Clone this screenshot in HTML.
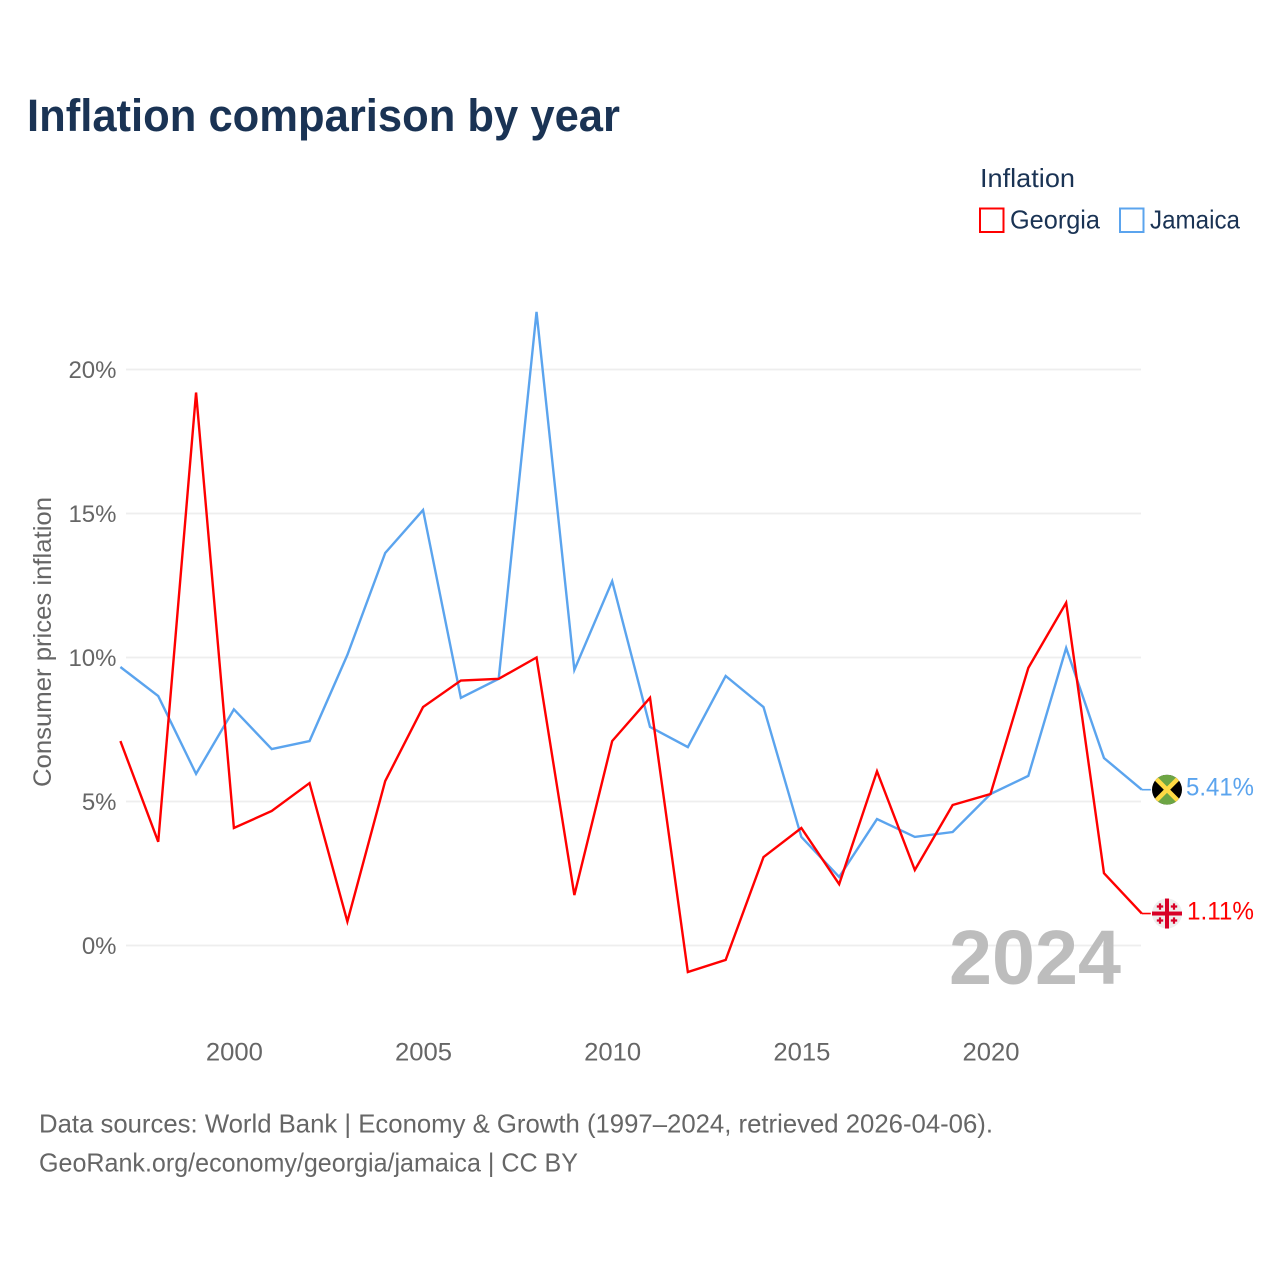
<!DOCTYPE html>
<html lang="en">
<head>
<meta charset="utf-8">
<title>Inflation comparison by year</title>
<style>
html,body{margin:0;padding:0;background:#fff;}
svg{display:block;font-family:"Liberation Sans",sans-serif;}
</style>
</head>
<body>
<svg id="chart" xmlns="http://www.w3.org/2000/svg" width="1280" height="1280" viewBox="0 0 1280 1280">
  <text x="27" y="131" font-size="45" font-weight="700" fill="#1a3354" textLength="593" lengthAdjust="spacingAndGlyphs">Inflation comparison by year</text>

  <text x="980" y="187" font-size="26" fill="#1a3354" textLength="95" lengthAdjust="spacingAndGlyphs">Inflation</text>
  <rect x="980" y="208.5" width="23.5" height="23.5" fill="#fff" stroke="#ff0000" stroke-width="2"/>
  <text x="1010" y="228.5" font-size="26" fill="#1a3354" textLength="90" lengthAdjust="spacingAndGlyphs">Georgia</text>
  <rect x="1120" y="208.5" width="23.5" height="23.5" fill="#fff" stroke="#5ba4ee" stroke-width="2"/>
  <text x="1150" y="228.5" font-size="26" fill="#1a3354" textLength="90" lengthAdjust="spacingAndGlyphs">Jamaica</text>

  <text transform="translate(51,787) rotate(-90)" font-size="25" fill="#666" textLength="290" lengthAdjust="spacingAndGlyphs">Consumer prices inflation</text>

  <g id="grid"></g>
  <g id="yticks"></g>
  <g id="xticks"></g>

  <text x="1121" y="984" text-anchor="end" font-size="77" font-weight="700" fill="#bdbdbd" textLength="172" lengthAdjust="spacingAndGlyphs">2024</text>

  <g id="series"></g>

  <g id="flag-jamaica">
    <clipPath id="clip-jm"><circle cx="0" cy="0" r="15"/></clipPath>
    <g clip-path="url(#clip-jm)">
      <rect x="-15" y="-15" width="30" height="30" fill="#000"/>
      <polygon points="-15,-15 15,-15 0,0" fill="#6da544"/>
      <polygon points="-15,15 15,15 0,0" fill="#6da544"/>
      <line x1="-15" y1="-15" x2="15" y2="15" stroke="#ffda44" stroke-width="4.5"/>
      <line x1="15" y1="-15" x2="-15" y2="15" stroke="#ffda44" stroke-width="4.5"/>
    </g>
  </g>
  <g id="flag-georgia">
    <circle cx="0" cy="0" r="15" fill="#eeeeee"/>
    <rect x="-15" y="-2" width="30" height="4" fill="#d80027"/>
    <rect x="-2" y="-15" width="4" height="30" fill="#d80027"/>
    <path d="M-8.1-10.2h2.2v2.1h2.1v2.2h-2.1v2.1h-2.2v-2.1h-2.1v-2.2h2.1zM5.9-10.2h2.2v2.1h2.1v2.2h-2.1v2.1h-2.2v-2.1h-2.1v-2.2h2.1zM-8.1 3.8h2.2v2.1h2.1v2.2h-2.1v2.1h-2.2v-2.1h-2.1v-2.2h2.1zM5.9 3.8h2.2v2.1h2.1v2.2h-2.1v2.1h-2.2v-2.1h-2.1v-2.2h2.1z" fill="#d80027"/>
  </g>

  <text x="39" y="1132.5" font-size="26" fill="#666" textLength="954" lengthAdjust="spacingAndGlyphs">Data sources: World Bank | Economy &amp; Growth (1997–2024, retrieved 2026-04-06).</text>
  <text x="39" y="1171.5" font-size="26" fill="#666" textLength="539" lengthAdjust="spacingAndGlyphs">GeoRank.org/economy/georgia/jamaica | CC BY</text>
</svg>
<script>
const years = [1997,1998,1999,2000,2001,2002,2003,2004,2005,2006,2007,2008,2009,2010,2011,2012,2013,2014,2015,2016,2017,2018,2019,2020,2021,2022,2023,2024];
const georgia = [7.1,3.6,19.2,4.08,4.67,5.64,0.83,5.71,8.28,9.2,9.26,10.0,1.75,7.1,8.6,-0.92,-0.5,3.07,4.08,2.13,6.05,2.62,4.88,5.26,9.64,11.9,2.51,1.11];
const jamaica = [9.67,8.66,5.96,8.2,6.82,7.1,10.09,13.63,15.12,8.6,9.26,22.0,9.57,12.65,7.59,6.89,9.36,8.28,3.77,2.38,4.39,3.77,3.94,5.26,5.89,10.33,6.51,5.41];
const yTickValues = [0,5,10,15,20];
const xTickValues = [2000,2005,2010,2015,2020];

const NS = 'http://www.w3.org/2000/svg';
const xScale = function (year) { return 120.4 + (year - 1997) * 37.83; };
const yScale = function (v) { return 945.5 - v * 28.8; };
const root = document.getElementById('chart');

function make(tag, attrs, parent) {
  const el = document.createElementNS(NS, tag);
  Object.keys(attrs).forEach(function (k) { el.setAttribute(k, attrs[k]); });
  parent.appendChild(el);
  return el;
}

yTickValues.forEach(function (v) {
  const line = make('line', {x1: 126, x2: 1141, y1: yScale(v), y2: yScale(v), stroke: '#eeeeee', 'stroke-width': 1.8}, document.getElementById('grid'));
  
  
  const label = make('text', {x: 116.5, y: yScale(v) + 8.5, 'text-anchor': 'end', 'font-size': 24, fill: '#666'}, document.getElementById('yticks'));
  label.textContent = v + '%';
  
  
});

xTickValues.forEach(function (year) {
  const label = make('text', {x: xScale(year) + 0.5, y: 1060.5, 'text-anchor': 'middle', 'font-size': 25, fill: '#666', textLength: 57, lengthAdjust: 'spacingAndGlyphs'}, document.getElementById('xticks'));
  label.textContent = String(year);
  
  
});

function toPoints(values) {
  return values.map(function (v, i) { return xScale(years[i]).toFixed(2) + ',' + yScale(v).toFixed(2); }).join(' ');
}

const seriesGroup = document.getElementById('series');
const lastX = xScale(years[years.length - 1]);

const jamaicaLine = make('polyline', {points: toPoints(jamaica), fill: 'none', stroke: '#5ba4ee', 'stroke-width': 2.4, 'stroke-linejoin': 'miter'}, seriesGroup);



const georgiaLine = make('polyline', {points: toPoints(georgia), fill: 'none', stroke: '#ff0000', 'stroke-width': 2.4, 'stroke-linejoin': 'miter'}, seriesGroup);



const jamaicaLast = jamaica[jamaica.length - 1];
const georgiaLast = georgia[georgia.length - 1];

const jamaicaLeader = make('line', {x1: lastX, x2: lastX + 9, y1: yScale(jamaicaLast), y2: yScale(jamaicaLast), stroke: '#5ba4ee', 'stroke-width': 1.6}, seriesGroup);



const georgiaLeader = make('line', {x1: lastX, x2: lastX + 9, y1: yScale(georgiaLast), y2: yScale(georgiaLast), stroke: '#ff0000', 'stroke-width': 1.6}, seriesGroup);



document.getElementById('flag-jamaica').setAttribute('transform', 'translate(1167,' + yScale(jamaicaLast) + ')');
document.getElementById('flag-georgia').setAttribute('transform', 'translate(1167,' + yScale(georgiaLast) + ')');

const jamaicaValue = make('text', {x: 1186, y: yScale(jamaicaLast) + 6, 'font-size': 25, fill: '#5ba4ee', textLength: 68, lengthAdjust: 'spacingAndGlyphs'}, root);
jamaicaValue.textContent = jamaicaLast.toFixed(2) + '%';



const georgiaValue = make('text', {x: 1187, y: yScale(georgiaLast) + 6, 'font-size': 25, fill: '#ff0000', textLength: 67, lengthAdjust: 'spacingAndGlyphs'}, root);
georgiaValue.textContent = georgiaLast.toFixed(2) + '%';


</script>
</body>
</html>
